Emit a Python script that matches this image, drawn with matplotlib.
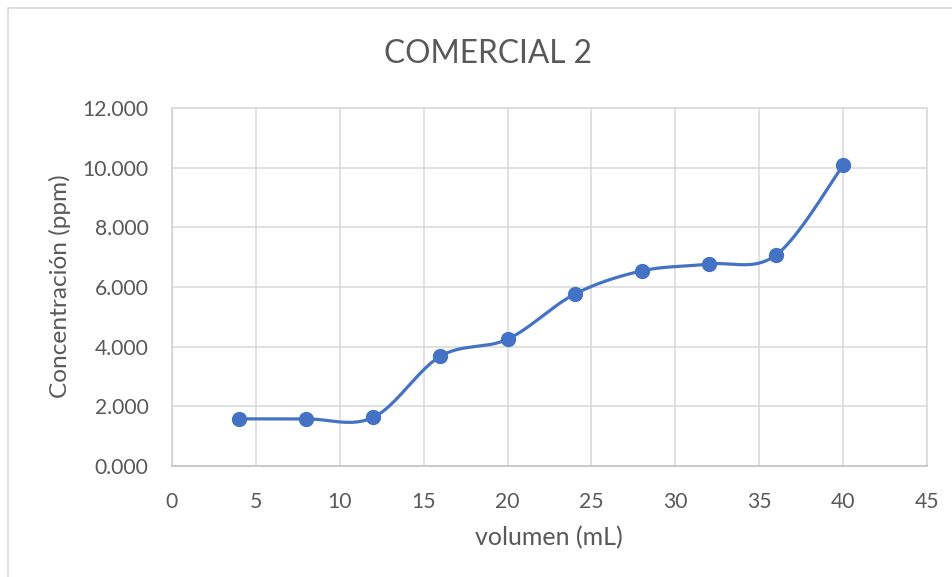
import numpy as np
import matplotlib
matplotlib.use("Agg")
import matplotlib.pyplot as plt
from matplotlib.patches import Rectangle

volumen = [4, 8, 12, 16, 20, 24, 28, 32, 36, 40]
concentracion = [1.58, 1.58, 1.63, 3.68, 4.25, 5.76, 6.54, 6.77, 7.07, 10.08]
x_ticks = [0, 5, 10, 15, 20, 25, 30, 35, 40, 45]
y_ticks = [0, 2, 4, 6, 8, 10, 12]
y_tick_labels = ["0.000", "2.000", "4.000", "6.000", "8.000", "10.000", "12.000"]
title = "COMERCIAL 2"
xlabel = "volumen (mL)"
ylabel = "Concentración (ppm)"

plt.rcParams['font.family'] = ['Lato', 'DejaVu Sans']
TXT = '#595959'
GRID = '#d9d9d9'
BLUE = '#4472C4'

def smooth(xs, ys, n=40):
    P = np.column_stack([xs, ys]).astype(float)
    P_ext = np.vstack([P[0], P, P[-1]])
    out = []
    for i in range(len(P) - 1):
        p0, p1, p2, p3 = P_ext[i], P_ext[i + 1], P_ext[i + 2], P_ext[i + 3]
        c1 = p1 + (p2 - p0) / 6.0
        c2 = p2 - (p3 - p1) / 6.0
        t = np.linspace(0, 1, n)[:, None]
        seg = ((1 - t) ** 3) * p1 + 3 * ((1 - t) ** 2) * t * c1 + 3 * (1 - t) * t ** 2 * c2 + t ** 3 * p2
        out.append(seg if i == 0 else seg[1:])
    c = np.vstack(out)
    return c[:, 0], c[:, 1]

fig = plt.figure(figsize=(9.53, 5.77), dpi=100)
fig.patches.append(Rectangle((8 / 953, -0.01), 1.0, 1 - 8 / 577 + 0.01, transform=fig.transFigure,
                             fill=False, edgecolor='#d9d9d9', linewidth=1.2))

ax = fig.add_axes([172 / 953, 1 - 466 / 577, (927 - 172) / 953, (466 - 108) / 577])
ax.set_xlim(0, 45)
ax.set_ylim(0, 12)
ax.set_xticks(x_ticks)
ax.set_yticks(y_ticks)
ax.set_yticklabels(y_tick_labels)
ax.grid(True, color=GRID, linewidth=1.1)
ax.set_axisbelow(True)
for s in ax.spines.values():
    s.set_color(GRID)
    s.set_linewidth(1.1)
ax.spines['bottom'].set_color('#bfbfbf')
ax.spines['left'].set_color('#d0d0d0')
ax.tick_params(length=0, labelsize=15.2, labelcolor=TXT)
ax.tick_params(axis='y', pad=17)
ax.tick_params(axis='x', pad=18.5)

sx, sy = smooth(volumen, concentracion)
ax.plot(sx, sy, color=BLUE, linewidth=2.3, solid_capstyle='round', zorder=3)
ax.plot(volumen, concentracion, 'o', color=BLUE, markersize=10, zorder=4)

fig.text(488 / 953, 1 - 54 / 577, title, ha='center', va='center', fontsize=22.8, color=TXT)
fig.text(549 / 953, 1 - 538 / 577, xlabel, ha='center', va='center', fontsize=18, color=TXT)
fig.text(60 / 953, 1 - 286 / 577, ylabel, ha='center', va='center', rotation=90, fontsize=17.6, color=TXT)

fig.savefig('out.png', dpi=100)
